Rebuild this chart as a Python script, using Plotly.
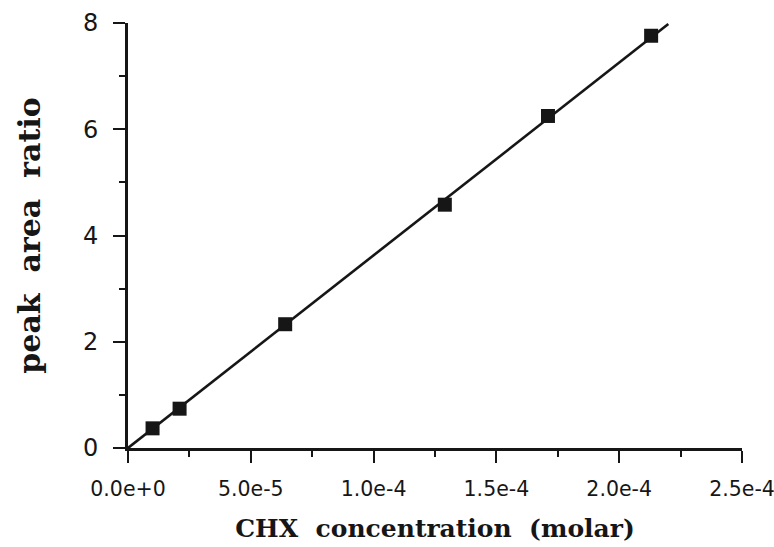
import plotly.graph_objects as go

# Data
conc = [1.0e-5, 2.1e-5, 6.4e-5, 1.29e-4, 1.71e-4, 2.13e-4]
ratio = [0.37, 0.74, 2.33, 4.58, 6.25, 7.76]
fit_x = [0.0, 2.2e-4]
fit_y = [0.0, 7.98]

x_tick_vals = [0, 5e-5, 1e-4, 1.5e-4, 2e-4, 2.5e-4]
x_tick_text = ["0.0e+0", "5.0e-5", "1.0e-4", "1.5e-4", "2.0e-4", "2.5e-4"]
y_tick_vals = [0, 2, 4, 6, 8]
y_tick_text = ["0", "2", "4", "6", "8"]

ink = "#161616"

fig = go.Figure()
fig.add_trace(go.Scatter(x=fit_x, y=fit_y, mode="lines",
                         line=dict(color=ink, width=2.6),
                         showlegend=False, cliponaxis=False))
fig.add_trace(go.Scatter(x=conc, y=ratio, mode="markers",
                         marker=dict(symbol="square", size=14, color=ink,
                                     line=dict(width=0)),
                         showlegend=False, cliponaxis=False))

axis_common = dict(showgrid=False, zeroline=False, showline=True,
                   linecolor=ink, linewidth=2.6, ticks="outside",
                   ticklen=12, tickwidth=2.4, tickcolor=ink, automargin=False,
                   ticklabeloverflow="allow")

fig.update_xaxes(range=[0, 2.50001e-4], tickmode="array", tickvals=x_tick_vals,
                 ticktext=x_tick_text,
                 tickfont=dict(family="DejaVu Sans", size=20.5, color=ink),
                 minor=dict(dtick=2.5e-5, tick0=0, ticks="outside", ticklen=6,
                            tickwidth=2.4, tickcolor=ink, showgrid=False),
                 ticklabelstandoff=9,
                 title=dict(text="CHX  concentration  (molar)",
                            font=dict(family="DejaVu Serif", size=25,
                                      color=ink, weight="bold"),
                            standoff=20),
                 **axis_common)
fig.update_yaxes(range=[0, 8.00001], tickmode="array", tickvals=y_tick_vals,
                 ticktext=y_tick_text,
                 tickfont=dict(family="DejaVu Sans", size=24, color=ink),
                 minor=dict(dtick=1, tick0=0, ticks="outside", ticklen=6,
                            tickwidth=2.4, tickcolor=ink, showgrid=False),
                 ticklabelstandoff=10,
                 title=dict(text="peak  area  ratio",
                            font=dict(family="DejaVu Serif", size=30,
                                      color=ink, weight="bold"),
                            standoff=34),
                 **axis_common)

fig.update_layout(width=774, height=547,
                  margin=dict(l=128, r=32, t=23, b=99),
                  plot_bgcolor="white", paper_bgcolor="white")

fig.write_html("out.html")
